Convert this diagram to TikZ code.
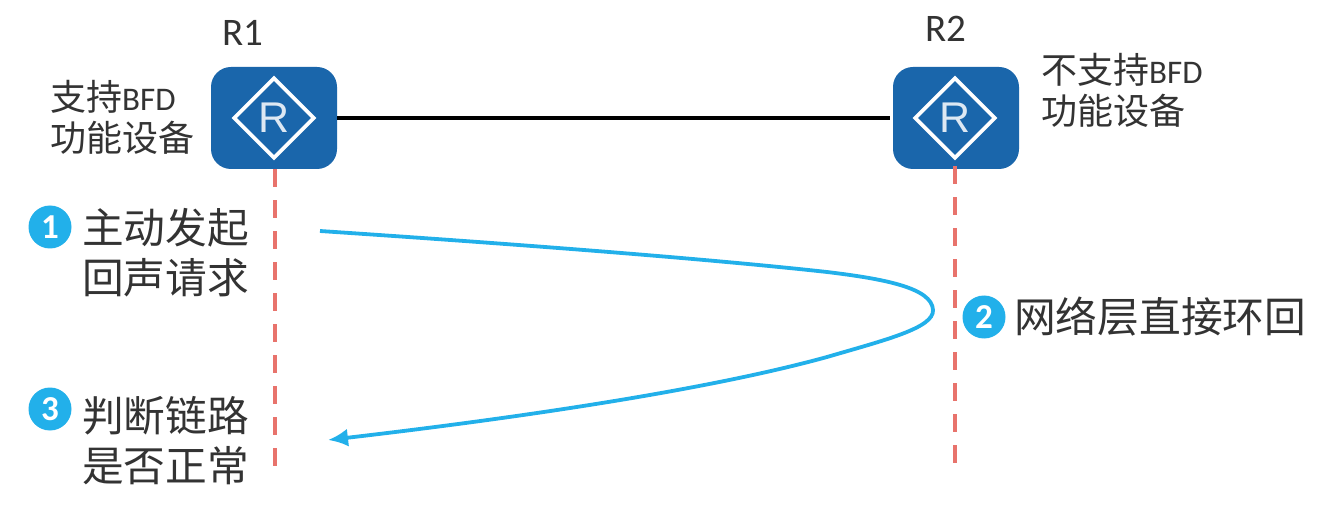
\documentclass[tikz,border=0pt]{standalone}
\usepackage{fontspec}
\setmainfont{Carlito}
\newfontfamily\cjk{Noto Sans CJK SC}
\newfontfamily\arialf{Liberation Sans}
\usetikzlibrary{shapes.geometric,arrows.meta}
\definecolor{routerblue}{HTML}{1A66AB}
\definecolor{stepblue}{HTML}{22B0EA}
\definecolor{dashred}{HTML}{E8736C}
\definecolor{inktext}{HTML}{333333}
\newcommand{\latinsmall}[1]{{\fontspec{Carlito}\fontsize{33}{41}\selectfont #1}}
\tikzset{
  router/.style={fill=routerblue,rounded corners=20pt,minimum width=126pt,minimum height=102pt,inner sep=0pt},
  mark diamond/.style={diamond,draw=white,line width=3.8pt,aspect=1,minimum width=81pt,minimum height=81pt,inner sep=0pt,text=white!85!routerblue,font=\arialf\fontsize{43}{43}\selectfont},
  name label/.style={font=\fontsize{39}{39}\selectfont,text=inktext,inner sep=0pt},
  small label/.style={align=left,anchor=west,inner sep=0pt,text=inktext,font=\cjk\fontsize{36}{41}\selectfont},
  big label/.style={align=left,anchor=west,inner sep=0pt,text=inktext,font=\cjk\fontsize{41.7}{50}\selectfont},
  step dot/.style={circle,fill=stepblue,minimum size=43pt,inner sep=0pt,text=white,font=\bfseries\fontsize{35}{35}\selectfont},
  life line/.style={draw=dashred,line width=3.4pt,dash pattern=on 18pt off 13pt},
  link line/.style={draw=black,line width=3.6pt},
  loop line/.style={draw=stepblue,line width=3.8pt,-{Latex[length=20pt,width=18pt]}}
}
\begin{document}
\begin{tikzpicture}[x=1pt,y=-1pt]
\useasboundingbox (0,0) rectangle (1332,518);
\fill[white] (0,0) rectangle (1332,518);
% routers
\node[router] (r1) at (274,118) {};
\node[router] (r2) at (956,118) {};
\node[mark diamond] (m1) at (274,118) {R};
\node[mark diamond] (m2) at (955,118) {R};
\node[name label] (n1) at (243,33) {R1};
\node[name label] (n2) at (946,29) {R2};
% connectors
\draw[link line] (r1.east) -- ([xshift=-3pt]r2.west);
\coordinate (e1) at (275,468);
\coordinate (e2) at (955,470);
\coordinate (a0) at (320,231);
\coordinate (u1) at (827,272);
\coordinate (a1) at (933,310);
\coordinate (l1) at (827,357);
\coordinate (a2) at (328,440);
\draw[life line] ([xshift=1pt]r1.south) -- (e1);
\draw[life line] ([xshift=-1pt,yshift=3pt]r2.south) -- (e2);
\draw[loop line] (a0) .. controls (500,243) and (700,258) .. (u1)
                      .. controls (885,279) and (932,288) .. (a1)
                      .. controls (934,328) and (885,340) .. (l1)
                      .. controls (700,392) and (500,420) .. (a2);
% labels
\node[small label] (t1) at (50,117) {支持\latinsmall{BFD}\\功能设备};
\node[small label] (t2) at (1041,90) {不支持\latinsmall{BFD}\\功能设备};
\node[step dot] (s1) at (50,227) {1};
\node[step dot] (s2) at (984,317) {2};
\node[step dot] (s3) at (50,409) {3};
\node[big label] (b1) at (82,253) {主动发起\\回声请求};
\node[big label] (b2) at (1014,317) {网络层直接环回};
\node[big label] (b3) at (82,441) {判断链路\\是否正常};
\end{tikzpicture}
\end{document}
